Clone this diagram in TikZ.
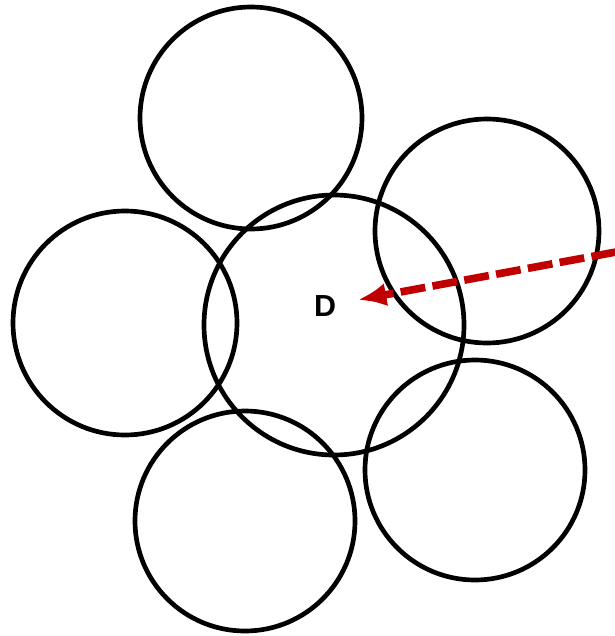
\documentclass[tikz,border=0pt]{standalone}
\usepackage{fontspec}
\setmainfont{Liberation Sans}
\usetikzlibrary{arrows.meta}
\definecolor{arrowred}{HTML}{C00000}

\begin{document}
\begin{tikzpicture}[x=0.03cm, y=-0.03cm, line width=4pt]

% Frame
\useasboundingbox (0,0) rectangle (615,636);

% Circles: centre x, centre y, radius (px)
\foreach \cx/\cy/\r in {334/325/130, 251/118/111, 125/323/112, 487/231/112, 245/521/110, 475/470/110}
  \draw[black] (\cx,\cy) circle (\r);

% Label
\node[font=\fontsize{26}{31}\selectfont\bfseries, inner sep=0pt] (lbl) at (325,306) {D};

% Dashed arrow into D
\coordinate (src) at (616,252);
\draw[arrowred, line width=6.5pt, dash pattern=on 0.75cm off 0.22cm,
      -{Latex[length=0.85cm, width=0.7cm]}, shorten >=0.6cm] (src) -- (lbl);

\end{tikzpicture}
\end{document}
